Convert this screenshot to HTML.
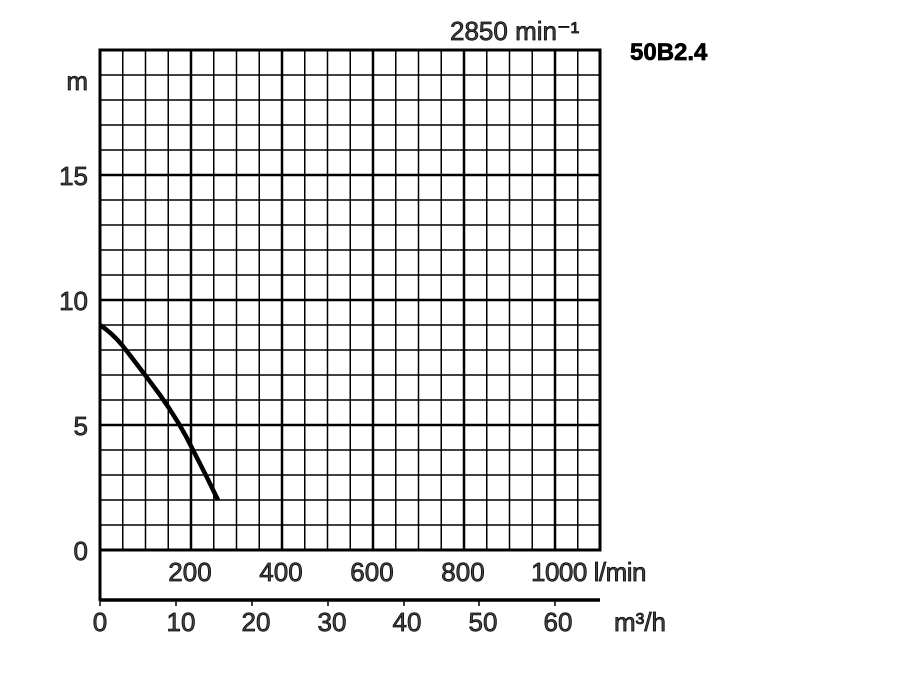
<!DOCTYPE html>
<html><head><style>body{margin:0;background:#fff}svg{display:block}</style></head><body>
<svg width="900" height="700" xmlns="http://www.w3.org/2000/svg" font-family="Liberation Sans, sans-serif">
<rect width="900" height="700" fill="#fff"/>
<g stroke="#000">
<g stroke-width="1.5">
<line x1="122.75" y1="50" x2="122.75" y2="550"/><line x1="145.5" y1="50" x2="145.5" y2="550"/><line x1="168.25" y1="50" x2="168.25" y2="550"/>
<line x1="213.75" y1="50" x2="213.75" y2="550"/><line x1="236.5" y1="50" x2="236.5" y2="550"/><line x1="259.25" y1="50" x2="259.25" y2="550"/>
<line x1="304.75" y1="50" x2="304.75" y2="550"/><line x1="327.5" y1="50" x2="327.5" y2="550"/><line x1="350.25" y1="50" x2="350.25" y2="550"/>
<line x1="395.75" y1="50" x2="395.75" y2="550"/><line x1="418.5" y1="50" x2="418.5" y2="550"/><line x1="441.25" y1="50" x2="441.25" y2="550"/>
<line x1="486.75" y1="50" x2="486.75" y2="550"/><line x1="509.5" y1="50" x2="509.5" y2="550"/><line x1="532.25" y1="50" x2="532.25" y2="550"/>
<line x1="577.75" y1="50" x2="577.75" y2="550"/>
<line x1="100" y1="75" x2="600" y2="75"/><line x1="100" y1="100" x2="600" y2="100"/><line x1="100" y1="125" x2="600" y2="125"/><line x1="100" y1="150" x2="600" y2="150"/>
<line x1="100" y1="200" x2="600" y2="200"/><line x1="100" y1="225" x2="600" y2="225"/><line x1="100" y1="250" x2="600" y2="250"/><line x1="100" y1="275" x2="600" y2="275"/>
<line x1="100" y1="325" x2="600" y2="325"/><line x1="100" y1="350" x2="600" y2="350"/><line x1="100" y1="375" x2="600" y2="375"/><line x1="100" y1="400" x2="600" y2="400"/>
<line x1="100" y1="450" x2="600" y2="450"/><line x1="100" y1="475" x2="600" y2="475"/><line x1="100" y1="500" x2="600" y2="500"/><line x1="100" y1="525" x2="600" y2="525"/>
</g>
<g stroke-width="2.5">
<line x1="191" y1="50" x2="191" y2="550"/><line x1="282" y1="50" x2="282" y2="550"/><line x1="373" y1="50" x2="373" y2="550"/><line x1="464" y1="50" x2="464" y2="550"/><line x1="555" y1="50" x2="555" y2="550"/>
<line x1="100" y1="175" x2="600" y2="175"/><line x1="100" y1="300" x2="600" y2="300"/><line x1="100" y1="425" x2="600" y2="425"/>
</g>
<rect x="100" y="50" width="500" height="500" fill="none" stroke-width="3"/>
<line x1="100" y1="550" x2="100" y2="601" stroke-width="3"/>
<line x1="100" y1="600" x2="600" y2="600" stroke-width="3.5"/>
<g stroke-width="1.5">
<line x1="100" y1="600" x2="100" y2="606"/><line x1="176" y1="600" x2="176" y2="606"/><line x1="252" y1="600" x2="252" y2="606"/><line x1="328" y1="600" x2="328" y2="606"/><line x1="404" y1="600" x2="404" y2="606"/><line x1="479" y1="600" x2="479" y2="606"/><line x1="555" y1="600" x2="555" y2="606"/>
</g>
<path d="M100,325 Q112,333 122,345 Q140,368 160,395 Q180,423 193,450 Q206,475 218,500" fill="none" stroke-width="4.5"/>
</g>
<g font-size="26" fill="#444" stroke="#000" stroke-width="0.7">
<text x="88" y="90" text-anchor="end">m</text>
<text x="88" y="185" text-anchor="end">15</text>
<text x="88" y="310" text-anchor="end">10</text>
<text x="88" y="435" text-anchor="end">5</text>
<text x="88" y="560" text-anchor="end">0</text>
<text x="190" y="581" text-anchor="middle">200</text>
<text x="281" y="581" text-anchor="middle">400</text>
<text x="372" y="581" text-anchor="middle">600</text>
<text x="463" y="581" text-anchor="middle">800</text>
<text x="531" y="581" letter-spacing="-0.5">1000 l/min</text>
<text x="100" y="631" text-anchor="middle">0</text>
<text x="181" y="631" text-anchor="middle">10</text>
<text x="256" y="631" text-anchor="middle">20</text>
<text x="332" y="631" text-anchor="middle">30</text>
<text x="407" y="631" text-anchor="middle">40</text>
<text x="483" y="631" text-anchor="middle">50</text>
<text x="558" y="631" text-anchor="middle">60</text>
<text x="614" y="631">m³/h</text>
<text x="450" y="40">2850 min⁻¹</text>
<text x="630" y="60" font-weight="bold" font-size="24" fill="#000">50B2.4</text>
</g>
</svg>
</body></html>
